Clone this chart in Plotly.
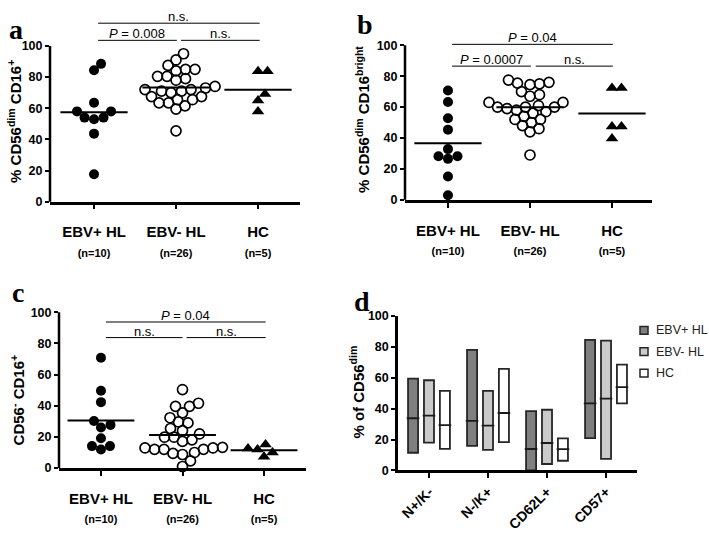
import plotly.graph_objects as go

# ---------------- data ----------------
groups = ["EBV+ HL", "EBV- HL", "HC"]
group_n = ["(n=10)", "(n=26)", "(n=5)"]

# panel a: % CD56dim CD16+
a_ebv_pos = [88.5, 84.4, 63.5, 58, 58, 54, 54, 53, 43.7, 17.7]
a_ebv_neg = [95, 91, 87.5, 85, 85, 84, 80.5, 80.5, 79, 78, 74, 73, 71, 72, 72,
             71, 70, 67.5, 67.5, 65.5, 65.5, 63.5, 63.5, 61.5, 59.5, 45.5]
a_hc = [83.7, 83.7, 69.2, 65, 58]

# panel b: % CD56dim CD16bright
b_ebv_pos = [70.7, 63.3, 52.8, 45.4, 32.8, 28.2, 28.2, 26.5, 15.1, 2.9]
b_ebv_neg = [77.5, 76, 75.5, 75, 74.5, 70, 68, 67, 63, 60, 63, 60, 61, 59,
             60, 58, 57, 56, 54, 52, 52, 50, 48, 46, 44, 29]
b_hc = [72.4, 72.4, 47.5, 47.5, 39.7]

# panel c: CD56- CD16+
c_ebv_pos = [70.8, 49.6, 42.3, 30.2, 27.7, 26, 19.1, 14.1, 14.1, 11.9]
c_ebv_neg = [50.4, 41.6, 39.6, 39.6, 35.4, 32.3, 29.6, 29, 25.4, 24, 21.9, 19.8,
             19.8, 18.1, 17.1, 13.3, 12.9, 12.9, 12, 12, 12, 10, 9.4, 8.7, 4.6, 1]
c_hc = [15.2, 12.5, 11.9, 10, 7.3]

# significance labels
a_sig = ["n.s.", "<i>P</i> = 0.008", "n.s."]
b_sig = ["<i>P</i> = 0.04", "<i>P</i> = 0.0007", "n.s."]
c_sig = ["<i>P</i> = 0.04", "n.s.", "n.s."]

# panel d: floating bars (min-max) with median
d_categories = ["N+/K-", "N-/K+", "CD62L+", "CD57+"]
d_series = ["EBV+ HL", "EBV- HL", "HC"]
d_ebv_pos_low = [11.5, 16, 0, 21]
d_ebv_pos_high = [59.4, 78, 38.4, 84.5]
d_ebv_pos_median = [33.8, 32.1, 13.9, 43.5]
d_ebv_neg_low = [18.1, 13.4, 4.2, 7.5]
d_ebv_neg_high = [58.4, 51.5, 39.3, 84]
d_ebv_neg_median = [35.5, 29, 17.8, 46.5]
d_hc_low = [14, 18.3, 6.3, 43.5]
d_hc_high = [51.5, 65.7, 20.8, 68.5]
d_hc_median = [29.4, 37.2, 13.8, 54]

# ---------------- layout helpers ----------------
W, H = 709, 533
FONT = "Liberation Sans, Arial, Helvetica, sans-serif"
SERIF = "Liberation Serif, Times New Roman, serif"


def fx(p):
    return p / W


def fy(p):
    return (H - p) / H


def swarm(vals, xppu, yppu, d=9.5):
    order = sorted(range(len(vals)), key=lambda i: vals[i])
    placed = []
    res = [0.0] * len(vals)
    for i in order:
        y = vals[i] * yppu
        best = None
        k = 0
        while best is None:
            cands = [0.0] if k == 0 else [k * 0.5, -k * 0.5]
            for x in cands:
                if all((x - px) ** 2 + (y - py) ** 2 >= d * d for px, py in placed):
                    best = x
                    break
            k += 1
        placed.append((best, y))
        res[i] = best / xppu
    return res


fig = go.Figure()
shapes = []
annotations = []
layout = {}

scatter_panels = [
    dict(n=1, series=[a_ebv_pos, a_ebv_neg, a_hc], xpx=(50, 300), y0px=200, ppu=1.6,
         xr=(-0.537, 2.512), sig=a_sig,
         br=[(0.05, 2.02, 114.6), (0.05, 1.01, 103.6), (1.06, 2.02, 103.6)],
         title="% CD56<sup>dim</sup> CD16<sup>+</sup>", tx=15, ty=118),
    dict(n=2, series=[b_ebv_pos, b_ebv_neg, b_hc], xpx=(405, 652), y0px=198, ppu=1.587,
         xr=(-0.524, 2.488), sig=b_sig,
         br=[(0.05, 2.01, 100.6), (0.05, 1.01, 86.5), (1.07, 2.01, 86.5)],
         title="% CD56<sup>dim</sup> CD16<sup>bright</sup>", tx=363, ty=116),
    dict(n=3, series=[c_ebv_pos, c_ebv_neg, c_hc], xpx=(59, 306), y0px=473.5, ppu=1.6,
         xr=(-0.515, 2.515), sig=c_sig,
         br=[(0.06, 2.02, 93.75), (0.06, 1.0, 83.75), (1.05, 2.02, 83.75)],
         title="CD56<sup>-</sup> CD16<sup>+</sup>", tx=17, ty=404),
]

symbols = [
    dict(symbol="circle", size=10, color="black"),
    dict(symbol="circle-open", size=10, color="black", line=dict(width=1.7, color="black")),
    dict(symbol="triangle-up", size=11, color="black"),
]

YMAX = 120
for p in scatter_panels:
    n = p["n"]
    xs = "x" if n == 1 else f"x{n}"
    ys = "y" if n == 1 else f"y{n}"
    xppu = (p["xpx"][1] - p["xpx"][0]) / (p["xr"][1] - p["xr"][0])
    for gi, vals in enumerate(p["series"]):
        offs = swarm(vals, xppu, p["ppu"])
        fig.add_trace(go.Scatter(
            x=[gi + o for o in offs], y=vals, mode="markers",
            marker=symbols[gi], xaxis=xs, yaxis=ys, showlegend=False,
            cliponaxis=False, hoverinfo="y"))
        m = sum(vals) / len(vals)
        fig.add_trace(go.Scatter(
            x=[gi - 0.41, gi + 0.41], y=[m, m], mode="lines",
            line=dict(color="black", width=2), xaxis=xs, yaxis=ys,
            showlegend=False, hoverinfo="skip"))
    top_px = p["y0px"] - YMAX * p["ppu"]
    ydom = [fy(p["y0px"]), fy(top_px)]
    xdom = [fx(p["xpx"][0]), fx(p["xpx"][1])]
    layout["xaxis" if n == 1 else f"xaxis{n}"] = dict(
        domain=xdom, range=list(p["xr"]), anchor=ys,
        tickvals=[0, 1, 2],
        ticktext=[f"{g}<br><span style='font-size:11px'>{c}</span>" for g, c in zip(groups, group_n)],
        showline=True, linewidth=2.5, linecolor="black",
        ticks="outside", ticklen=5, tickwidth=2, tickcolor="black",
        tickfont=dict(family=FONT, size=15, color="black", weight="bold"),
        ticklabelstandoff=10,
        showgrid=False, zeroline=False, fixedrange=True)
    layout["yaxis" if n == 1 else f"yaxis{n}"] = dict(
        domain=ydom, range=[0, YMAX], anchor=xs,
        tickvals=[0, 20, 40, 60, 80, 100],
        showline=False, ticks="outside", ticklen=4, tickwidth=2, tickcolor="black",
        tickfont=dict(family=FONT, size=12.5, color="black", weight="bold"),
        showgrid=False, zeroline=False, fixedrange=True)
    # y axis line from 0 to 100 only
    shapes.append(dict(type="line", xref="paper", yref="paper",
                       x0=xdom[0], x1=xdom[0], y0=ydom[0],
                       y1=ydom[0] + (ydom[1] - ydom[0]) * 100 / YMAX,
                       line=dict(color="black", width=2.5)))
    for (x0, x1, ly), lab in zip(p["br"], p["sig"]):
        shapes.append(dict(type="line", xref=xs, yref=ys, x0=x0, x1=x1, y0=ly, y1=ly,
                           line=dict(color="black", width=1)))
        annotations.append(dict(x=(x0 + x1) / 2, y=ly, xref=xs, yref=ys, text=lab,
                                showarrow=False, xanchor="center", yanchor="bottom", yshift=-3,
                                font=dict(family=FONT, size=13, color="black")))
    annotations.append(dict(x=fx(p["tx"]), y=fy(p["ty"]), xref="paper", yref="paper",
                            text=p["title"], textangle=-90, showarrow=False,
                            xanchor="center", yanchor="middle",
                            font=dict(family=FONT, size=15, color="black", weight="bold")))

# ---------------- panel d ----------------
d_fill = ["#7f7f7f", "#cacaca", "#ffffff"]
d_offsets = [-0.27, 0.0, 0.27]
d_low = [d_ebv_pos_low, d_ebv_neg_low, d_hc_low]
d_high = [d_ebv_pos_high, d_ebv_neg_high, d_hc_high]
d_med = [d_ebv_pos_median, d_ebv_neg_median, d_hc_median]
for si, name in enumerate(d_series):
    xpos = [i + d_offsets[si] for i in range(len(d_categories))]
    fig.add_trace(go.Bar(
        x=xpos, y=[h - l for h, l in zip(d_high[si], d_low[si])], base=d_low[si],
        width=0.17, marker=dict(color=d_fill[si], line=dict(color="#262626", width=1.8)),
        xaxis="x4", yaxis="y4", showlegend=False, name=name))
    fig.add_trace(go.Scatter(
        x=xpos, y=d_med[si], mode="markers",
        marker=dict(symbol="line-ew", size=9, line=dict(color="#1a1a1a", width=1.8)),
        xaxis="x4", yaxis="y4", showlegend=False, hoverinfo="y"))
    # legend key (drawn manually to match the compact original legend)
    ky = 332 + si * 22
    shapes.append(dict(type="rect", xref="paper", yref="paper",
                       x0=fx(640), x1=fx(648), y0=fy(ky + 4), y1=fy(ky - 4),
                       fillcolor=d_fill[si], line=dict(color="#262626", width=1.5)))
    annotations.append(dict(x=fx(654), y=fy(ky), xref="paper", yref="paper", text=name,
                            showarrow=False, xanchor="left", yanchor="middle",
                            font=dict(family=FONT, size=12.5, color="#222")))

layout["xaxis4"] = dict(
    domain=[fx(398), fx(637)], range=[-0.525, 3.525], anchor="y4",
    tickvals=list(range(len(d_categories))), ticktext=d_categories, tickangle=-45,
    showline=True, linewidth=2.5, linecolor="black",
    ticks="outside", ticklen=5, tickwidth=2, tickcolor="black",
    tickfont=dict(family=FONT, size=14, color="black", weight="bold"),
    showgrid=False, zeroline=False, fixedrange=True)
layout["yaxis4"] = dict(
    domain=[fy(476), fy(317.3)], range=[0, 100], anchor="x4",
    tickvals=[0, 20, 40, 60, 80, 100],
    showline=True, linewidth=2.5, linecolor="black",
    ticks="outside", ticklen=4, tickwidth=2, tickcolor="black",
    tickfont=dict(family=FONT, size=12.5, color="black", weight="bold"),
    showgrid=False, zeroline=False, fixedrange=True)
annotations.append(dict(x=fx(357), y=fy(396), xref="paper", yref="paper",
                        text="% of CD56<sup>dim</sup>", textangle=-90, showarrow=False,
                        xanchor="center", yanchor="middle",
                        font=dict(family=FONT, size=15, color="black", weight="bold")))

# panel letters
for letter, (lx, ly) in zip("abcd", [(15.5, 22.6), (364.5, 17.6), (17.5, 293.6), (362, 302.6)]):
    annotations.append(dict(x=fx(lx), y=fy(ly), xref="paper", yref="paper", text=letter,
                            showarrow=False, xanchor="center", yanchor="middle",
                            font=dict(family=SERIF, size=28, color="black", weight="bold")))

fig.update_layout(
    width=W, height=H, margin=dict(l=0, r=0, t=0, b=0),
    paper_bgcolor="white", plot_bgcolor="white",
    shapes=shapes, annotations=annotations, barmode="overlay", showlegend=False,
    font=dict(family=FONT, color="black"),
    **layout)

fig.write_html("out.html", config={"displayModeBar": False},
               post_script="document.body.style.margin='0';document.body.style.overflow='hidden';")
